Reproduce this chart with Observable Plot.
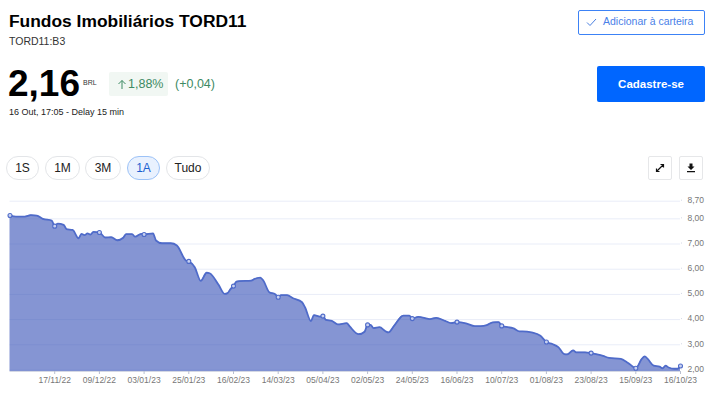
<!DOCTYPE html>
<html lang="pt"><head><meta charset="utf-8">
<script src="https://cdn.jsdelivr.net/npm/d3@7"></script>
<script src="https://cdn.jsdelivr.net/npm/@observablehq/plot@0.6"></script>
<style>
html,body{margin:0;padding:0;background:#fff;overflow:hidden}
body{width:720px;height:405px;position:relative;font-family:"Liberation Sans",Arial,sans-serif;color:#000}
.a{position:absolute;white-space:nowrap}
.pill{position:absolute;top:156px;height:24px;box-sizing:border-box;border:1px solid #e3e5e8;border-radius:12px;font-size:12px;line-height:22px;text-align:center;color:#222}
.pill.on{background:#e9f1fe;border-color:#9cc2f7;color:#1c5fd0}
.ic{position:absolute;top:156px;width:24px;height:24px;box-sizing:border-box;border:1px solid #e6e7e9;border-radius:2px}
#chart{position:absolute;left:0;top:190px}
</style></head><body>
<div class="a" style="left:9px;top:10px;font-size:17.4px;font-weight:700;line-height:22px">Fundos Imobiliários TORD11</div>
<div class="a" style="left:9px;top:35px;font-size:10.5px;line-height:13px;color:#333">TORD11:B3</div>
<div class="a" style="left:8px;top:62px;font-size:37px;font-weight:700;line-height:44px">2,16</div>
<div class="a" style="left:83px;top:78px;font-size:7px;line-height:9px;color:#333">BRL</div>
<div class="a" style="left:109px;top:72px;width:59px;height:24px;background:#f1f7f3;border-radius:2px"></div>
<svg class="a" style="left:117px;top:79px" width="10" height="11"><path d="M5 10V1.5M1.5 5L5 1.5L8.5 5" fill="none" stroke="#3d8a63" stroke-width="1"/></svg>
<div class="a" style="left:128px;top:76px;font-size:12.5px;line-height:16px;color:#3d8a63">1,88%</div>
<div class="a" style="left:175px;top:76px;font-size:12.5px;line-height:16px;color:#3d8a63">(+0,04)</div>
<div class="a" style="left:9px;top:106px;font-size:9px;line-height:13px;color:#222">16 Out, 17:05 - Delay 15 min</div>
<div class="a" style="left:578px;top:10px;width:127px;height:25px;box-sizing:border-box;border:1px solid #3c82f6;border-radius:2px"></div>
<svg class="a" style="left:586px;top:18px" width="11" height="9"><path d="M1 4.5L4 7.5L10 1" fill="none" stroke="#4a7fe0" stroke-width="1"/></svg>
<div class="a" style="left:603px;top:14px;font-size:10.5px;line-height:15px;color:#4a7fe8">Adicionar à carteira</div>
<div class="a" style="left:597px;top:66px;width:108px;height:36px;background:#0066ff;border-radius:2px;color:#fff;font-size:11.5px;font-weight:700;line-height:36px;text-align:center">Cadastre-se</div>
<div class="pill" style="left:6px;width:33px">1S</div>
<div class="pill" style="left:45px;width:35px">1M</div>
<div class="pill" style="left:85px;width:36px">3M</div>
<div class="pill on" style="left:127px;width:33px">1A</div>
<div class="pill" style="left:166px;width:44px">Tudo</div>
<div class="ic" style="left:648px"><svg width="22" height="22"><path d="M7.5 14.5L14.5 7.5M11.5 7.5H14.5V10.5M7.5 11.5V14.5H10.5" fill="none" stroke="#111" stroke-width="1.2"/></svg></div>
<div class="ic" style="left:679px"><svg width="22" height="22"><path d="M9.5 6.5H12.5V9.5H14.5L11 13L7.5 9.5H9.5ZM7 14H15V15.3H7Z" fill="#111"/></svg></div>
<div id="chart"></div>
<script>
const indices=[0,2,5,7,9,11,14,15,16,18,19,21,23,24,25,26,27,28,30,32,34,36,38,39,41,42,44,45,48,49,51,54,56,59,60,62,64,66,67,70,72,73,74,75,76,77,81,82,84,85,87,89,90,91,93,95,98,99,101,102,104,105,106,108,110,113,114,117,119,120,121,122,124,126,127,129,132,134,135,137,140,141,143,146,148,150,153,156,158,160,162,164,165,169,171,172,175,178,180,182,184,186,187,189,190,193,195,197,199,201,205,207,208,210,212,213,214,216,218,219,220,221,223,224,225];
const prices=[8.13,8.09,8.09,8.15,8.13,8.00,7.93,7.71,7.81,7.76,7.59,7.56,7.23,7.40,7.35,7.42,7.37,7.48,7.46,7.26,7.27,7.15,7.25,7.39,7.39,7.29,7.40,7.38,7.42,7.14,7.03,7.03,6.94,6.35,6.31,6.08,5.54,5.86,5.84,5.38,5.02,5.05,5.21,5.33,5.51,5.53,5.55,5.61,5.67,5.55,5.09,5.01,4.89,4.97,4.97,4.85,4.69,4.49,3.94,4.18,4.12,4.14,3.99,3.95,3.81,3.86,3.73,3.42,3.52,3.79,3.79,3.66,3.70,3.54,3.49,3.77,4.16,4.16,4.04,4.11,4.04,4.02,4.07,3.95,3.86,3.90,3.85,3.74,3.74,3.78,3.89,3.90,3.75,3.65,3.53,3.53,3.49,3.36,3.11,3.03,2.91,2.63,2.62,2.78,2.70,2.70,2.67,2.62,2.56,2.48,2.44,2.31,2.23,2.07,2.44,2.54,2.44,2.17,2.13,2.07,2.17,2.10,2.05,2.05,2.16];
const tickIndices=[15,30,45,60,75,90,105,120,135,150,165,180,195,210,225];
const tickLabels=["17/11/22","09/12/22","03/01/23","25/01/23","16/02/23","14/03/23","05/04/23","02/05/23","24/05/23","16/06/23","10/07/23","01/08/23","23/08/23","15/09/23","16/10/23"];
const yTicks=[2,3,4,5,6,7,8,8.7];
const markerIndices=[0,...tickIndices];

const rows=indices.map((i,k)=>({i,p:prices[k]}));
const markers=rows.filter(d=>markerIndices.includes(d.i));
const yMin=1.94;
const fmt=d=>d.toFixed(2).replace(".",",");
const chart=Plot.plot({
  width:720,height:215,
  marginLeft:9.5,marginRight:40,marginTop:10.7,marginBottom:34,
  style:{fontFamily:"'Liberation Sans',Arial,sans-serif",background:"transparent",overflow:"visible"},
  x:{domain:[0,225]},
  y:{domain:[yMin,8.7]},
  marks:[
    Plot.ruleY(yTicks,{stroke:"#e9edf8",strokeWidth:1}),
    Plot.areaY(rows,{x:"i",y1:yMin,y2:"p",curve:"monotone-x",fill:"#3a54b8",fillOpacity:0.62}),
    Plot.lineY(rows,{x:"i",y:"p",curve:"monotone-x",stroke:"#4f6bc9",strokeWidth:1.8}),
    Plot.dot(markers,{x:"i",y:"p",r:2,fill:"#c9d2f0",stroke:"#4f6bc9",strokeWidth:1.1}),
    Plot.ruleY([yMin],{stroke:"#c9cedd",strokeWidth:0.8}),
    Plot.axisX({ticks:tickIndices,tickFormat:d=>tickLabels[tickIndices.indexOf(d)],tickSize:3,tickPadding:2,stroke:"#b9bfd0",fill:"#777",fontSize:8.5,label:null}),
    Plot.axisY({anchor:"right",ticks:yTicks,tickFormat:fmt,tickSize:1,tickPadding:6,stroke:"#d5d9e6",fill:"#777",fontSize:8.5,dy:-1,label:null})
  ]
});
document.getElementById("chart").append(chart);
</script>
</body></html>
